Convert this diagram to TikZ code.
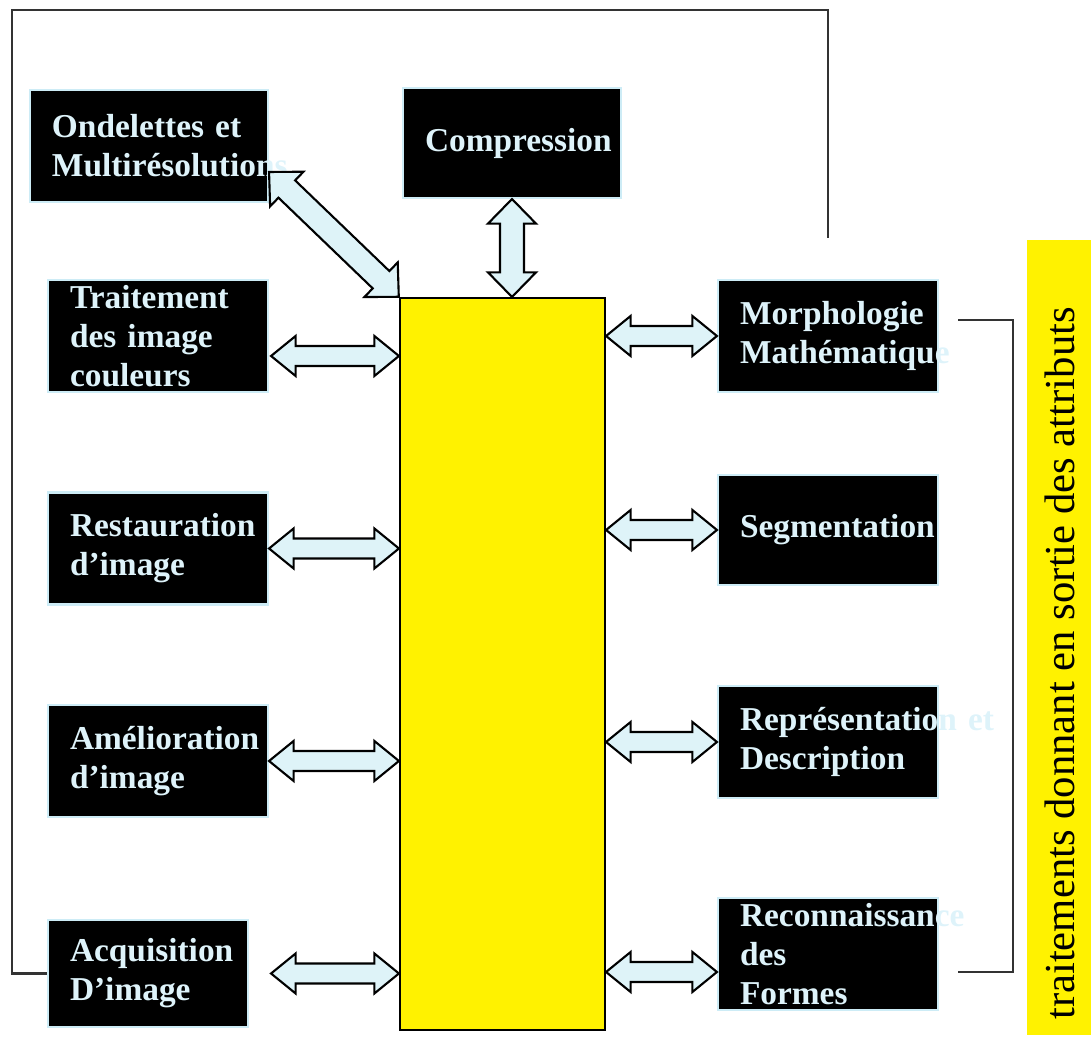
\documentclass[tikz,border=0pt]{standalone}
\usepackage{fontspec}
\setmainfont{Liberation Serif}
\usetikzlibrary{calc}

\definecolor{flecheclair}{RGB}{222,243,248}
\definecolor{textebloc}{RGB}{222,243,250}
\definecolor{bordbloc}{RGB}{205,236,246}

\tikzset{
  bloc/.style={draw=bordbloc, line width=0.6pt, fill=black, text=textebloc,
    font=\fontsize{9.5}{11.1}\selectfont\bfseries, align=left,
    inner xsep=0.22cm, inner ysep=0pt, minimum height=1.12cm},
  fleche/.style={draw=black, line width=0.6pt, fill=flecheclair, line join=miter},
  cadre/.style={draw=black!80, line width=0.6pt},
}

% double block arrow between two points, optional width factor
\newcommand{\doublefleche}[3][1]{%
  \draw[fleche] let \p1=(#2), \p2=(#3),
    \n1={veclen(\x2-\x1,\y2-\y1)}, \n2={atan2(\y2-\y1,\x2-\x1)} in
    [shift={(\p1)}, rotate=\n2]
    (0pt,0pt) -- (7pt,{#1*5.7pt}) -- (7pt,{#1*2.85pt}) -- ({\n1*1pt-7pt},{#1*2.85pt})
    -- ({\n1*1pt-7pt},{#1*5.7pt}) -- ({\n1*1pt},0pt) -- ({\n1*1pt-7pt},{-#1*5.7pt})
    -- ({\n1*1pt-7pt},{-#1*2.85pt}) -- (7pt,{-#1*2.85pt}) -- (7pt,{-#1*5.7pt}) -- cycle;}

\begin{document}
\begin{tikzpicture}
\useasboundingbox (0,0) rectangle (10.91,10.45);

% Bloc central
\node[draw=black, line width=0.6pt, fill=yellow, minimum width=2.05cm, minimum height=7.32cm] (noyau) at (5.025,3.81) {};

% Blocs de gauche
\node[bloc, text width=1.94cm] (ondel) at (1.49,8.99) {Ondelettes et\\\mbox{Multirésolutions}};
\node[bloc, text width=1.76cm] (trait) at (1.58,7.09) {Traitement\\des image\\couleurs};
\node[bloc, text width=1.76cm] (restau) at (1.58,4.965) {\mbox{Restauration}\\d’image};
\node[bloc, text width=1.76cm] (amelio) at (1.58,2.84) {\mbox{Amélioration}\\d’image};
\node[bloc, text width=1.56cm, minimum height=1.07cm] (acqui) at (1.48,0.715) {\mbox{Acquisition}\\D’image};

% Bloc du haut
\node[bloc, text width=1.74cm, minimum height=1.10cm] (compr) at (5.12,9.02) {\mbox{Compression}};

% Blocs de droite
\node[bloc, text width=1.76cm] (morpho) at (8.28,7.09) {\mbox{Morphologie}\\\mbox{Mathématique}};
\node[bloc, text width=1.76cm, minimum height=1.10cm] (segm) at (8.28,5.15) {\mbox{Segmentation}};
\node[bloc, text width=1.76cm] (repres) at (8.28,3.03) {\mbox{Représentation et}\\Description};
\node[bloc, text width=1.76cm] (reconn) at (8.28,0.91) {\mbox{Reconnaissance}\\des\\Formes};

% Bande verticale
\node[fill=yellow, minimum width=0.64cm, minimum height=7.95cm, inner sep=0pt] (bande) at (10.59,4.075) {};
\node[rotate=90, font=\fontsize{12.15}{14}\selectfont] (legende) at (10.60,3.815) {traitements donnant en sortie des attributs};

% Fleches
\coordinate (t1) at ($(trait.east)+(0.02,-0.2)$);
\coordinate (a1) at ($(acqui.east)+(0.22,0)$);
\coordinate (r1) at ($(reconn.west)+(0,-0.18)$);
\doublefleche[1.2]{$(ondel.east)+(0,-0.26)$}{noyau.north west}
\doublefleche[1.2]{compr.south}{compr.south |- noyau.north}
\doublefleche{t1}{t1 -| noyau.west}
\doublefleche{restau.east}{restau.east -| noyau.west}
\doublefleche{amelio.east}{amelio.east -| noyau.west}
\doublefleche{a1}{a1 -| noyau.west}
\doublefleche{morpho.west -| noyau.east}{morpho.west}
\doublefleche{segm.west -| noyau.east}{segm.west}
\doublefleche{repres.west -| noyau.east}{repres.west}
\doublefleche{r1 -| noyau.east}{r1}

% Cadre de retour
\coordinate (retour) at (8.28,8.07);
\draw[cadre] (retour) -- (8.28,10.35) -- (0.12,10.35) |- (acqui.west);

% Accolade droite
\coordinate (acc1) at (9.58,7.25);
\coordinate (acc2) at (9.58,0.73);
\draw[cadre] (acc1) -- (10.13,7.25) -- (10.13,0.73) -- (acc2);
\end{tikzpicture}
\end{document}
